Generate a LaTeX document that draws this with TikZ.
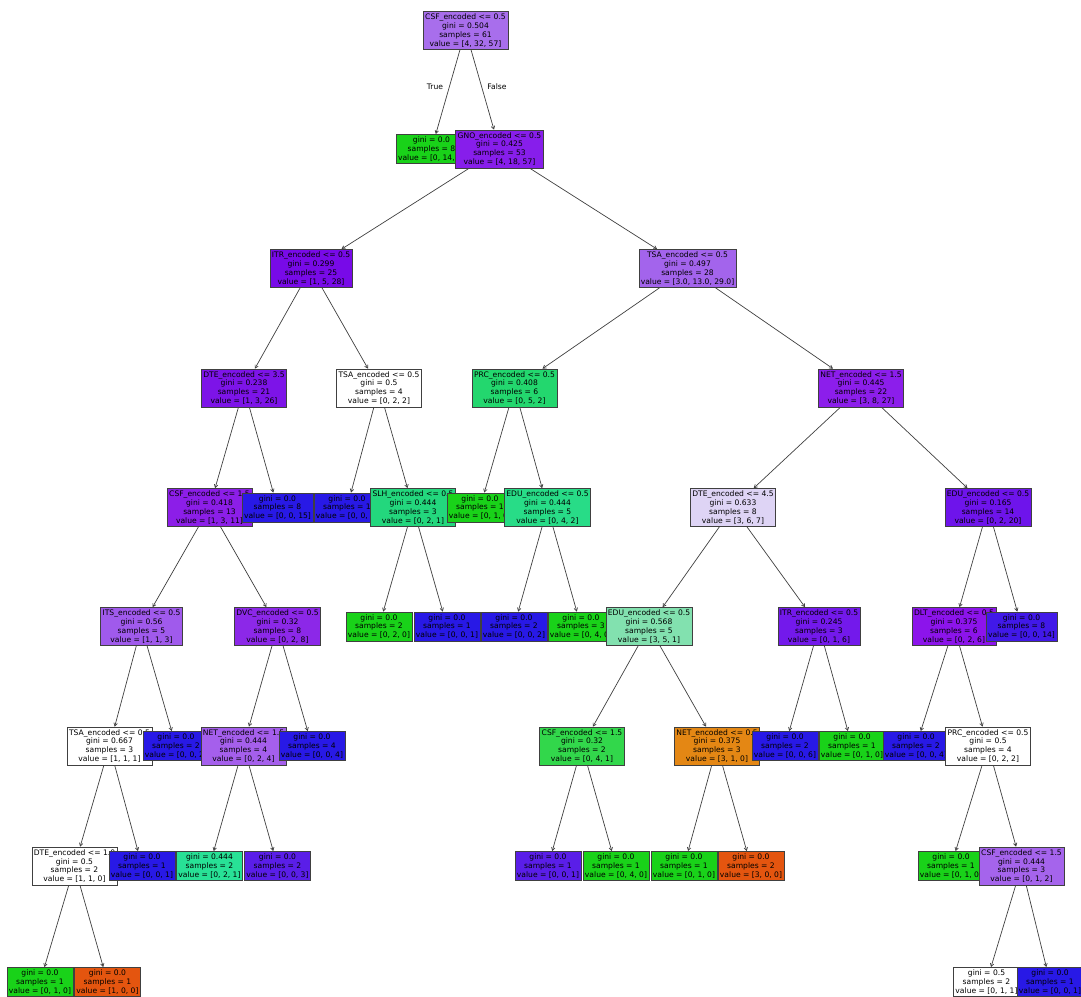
\documentclass[tikz,border=0pt]{standalone}
\usepackage{fontspec}
\setmainfont{DejaVu Sans}
\usetikzlibrary{arrows.meta}
\definecolor{cRoot}{RGB}{168,110,236}
\definecolor{cG}{RGB}{25,210,25}
\definecolor{cGNO}{RGB}{135,30,235}
\definecolor{cITR}{RGB}{120,10,232}
\definecolor{cTSAb}{RGB}{163,100,236}
\definecolor{cDTEa}{RGB}{125,20,232}
\definecolor{cPRC}{RGB}{35,215,110}
\definecolor{cNETa}{RGB}{140,30,235}
\definecolor{cCSFa}{RGB}{140,30,232}
\definecolor{cB}{RGB}{40,25,230}
\definecolor{cSLH}{RGB}{35,215,125}
\definecolor{cEDUa}{RGB}{40,220,135}
\definecolor{cDTEb}{RGB}{222,212,245}
\definecolor{cEDUc}{RGB}{110,20,235}
\definecolor{cITS}{RGB}{160,90,236}
\definecolor{cDVC}{RGB}{140,40,232}
\definecolor{cEDUb}{RGB}{130,225,175}
\definecolor{cITRb}{RGB}{115,25,235}
\definecolor{cDLT}{RGB}{140,20,235}
\definecolor{cBV}{RGB}{65,25,232}
\definecolor{cNETb}{RGB}{165,95,236}
\definecolor{cCSFb}{RGB}{50,215,75}
\definecolor{cOr}{RGB}{228,135,20}
\definecolor{cTeal}{RGB}{40,225,150}
\definecolor{cV}{RGB}{90,30,232}
\definecolor{cRO}{RGB}{228,85,15}
\definecolor{cCSFc}{RGB}{165,100,236}
\tikzset{
  box/.style={draw=black!75, line width=0.5pt, rectangle, inner xsep=2pt, inner ysep=2.5pt,
    align=center, font=\fontsize{7.6}{8.8}\selectfont, text=black},
  edge/.style={draw=black!75, line width=0.7pt, -{Straight Barb[length=3pt,width=3.5pt]}},
  lbl/.style={font=\fontsize{7.6}{8.8}\selectfont, inner sep=0pt}
}
\begin{document}
\begin{tikzpicture}[x=1pt,y=-1pt]
\useasboundingbox (0,0) rectangle (1081,996);
\fill[white] (0,0) rectangle (1081,996);
% level 0
\node[box, fill=cRoot] (n0) at (465.5,30.5) {CSF\_encoded <= 0.5\\gini = 0.504\\samples = 61\\value = [4, 32, 57]};
% level 1
\node[box, fill=cG] (l1) at (431.5,149) {gini = 0.0\\samples = 8\\value = [0, 14, 0]};
\node[box, fill=cGNO] (gno) at (499.5,149) {GNO\_encoded <= 0.5\\gini = 0.425\\samples = 53\\value = [4, 18, 57]};
% left subtree of GNO
\node[box, fill=cITR] (itr) at (311,268.5) {ITR\_encoded <= 0.5\\gini = 0.299\\samples = 25\\value = [1, 5, 28]};
\node[box, fill=cDTEa] (dte35) at (244,388) {DTE\_encoded <= 3.5\\gini = 0.238\\samples = 21\\value = [1, 3, 26]};
\node[box, fill=cCSFa] (csfa) at (209.5,507.5) {CSF\_encoded <= 1.5\\gini = 0.418\\samples = 13\\value = [1, 3, 11]};
\node[box, fill=cITS] (its) at (141.5,626.5) {ITS\_encoded <= 0.5\\gini = 0.56\\samples = 5\\value = [1, 1, 3]};
\node[box, fill=white] (tsac) at (109.5,746) {TSA\_encoded <= 0.5\\gini = 0.667\\samples = 3\\value = [1, 1, 1]};
\node[box, fill=white] (dte10) at (74.5,866) {DTE\_encoded <= 1.0\\gini = 0.5\\samples = 2\\value = [1, 1, 0]};
\node[box, fill=cG] (g8) at (40,982) {gini = 0.0\\samples = 1\\value = [0, 1, 0]};
\node[box, fill=cRO] (o8) at (107.5,982) {gini = 0.0\\samples = 1\\value = [1, 0, 0]};
\node[box, fill=cB] (b7a) at (142,866) {gini = 0.0\\samples = 1\\value = [0, 0, 1]};
\node[box, fill=cB] (b6a) at (176,746) {gini = 0.0\\samples = 2\\value = [0, 0, 2]};
\node[box, fill=cDVC] (dvc) at (277.5,626.5) {DVC\_encoded <= 0.5\\gini = 0.32\\samples = 8\\value = [0, 2, 8]};
\node[box, fill=cNETb] (neta) at (243.5,746) {NET\_encoded <= 1.5\\gini = 0.444\\samples = 4\\value = [0, 2, 4]};
\node[box, fill=cTeal] (t7) at (209.5,866) {gini = 0.444\\samples = 2\\value = [0, 2, 1]};
\node[box, fill=cV] (v7a) at (277.5,866) {gini = 0.0\\samples = 2\\value = [0, 0, 3]};
\node[box, fill=cB] (b6b) at (312,746) {gini = 0.0\\samples = 4\\value = [0, 0, 4]};
\node[box, fill=cB] (b4a) at (277.5,507.5) {gini = 0.0\\samples = 8\\value = [0, 0, 15]};
\node[box, fill=white] (tsaw) at (379,388) {TSA\_encoded <= 0.5\\gini = 0.5\\samples = 4\\value = [0, 2, 2]};
\node[box, fill=cB] (b4b) at (347,507.5) {gini = 0.0\\samples = 1\\value = [0, 0, 1]};
\node[box, fill=cSLH] (slh) at (413,507.5) {SLH\_encoded <= 0.5\\gini = 0.444\\samples = 3\\value = [0, 2, 1]};
\node[box, fill=cG] (g5a) at (379,626.5) {gini = 0.0\\samples = 2\\value = [0, 2, 0]};
\node[box, fill=cB] (b5a) at (447,626.5) {gini = 0.0\\samples = 1\\value = [0, 0, 1]};
% right subtree of GNO
\node[box, fill=cTSAb] (tsab) at (687.5,268.5) {TSA\_encoded <= 0.5\\gini = 0.497\\samples = 28\\value = [3.0, 13.0, 29.0]};
\node[box, fill=cPRC] (prc) at (514.5,388) {PRC\_encoded <= 0.5\\gini = 0.408\\samples = 6\\value = [0, 5, 2]};
\node[box, fill=cG] (g4) at (480,507.5) {gini = 0.0\\samples = 1\\value = [0, 1, 0]};
\node[box, fill=cEDUa] (edua) at (547.5,507.5) {EDU\_encoded <= 0.5\\gini = 0.444\\samples = 5\\value = [0, 4, 2]};
\node[box, fill=cB] (b5b) at (514,626.5) {gini = 0.0\\samples = 2\\value = [0, 0, 2]};
\node[box, fill=cG] (g5b) at (581,626.5) {gini = 0.0\\samples = 3\\value = [0, 4, 0]};
\node[box, fill=cNETa] (netb) at (861,388) {NET\_encoded <= 1.5\\gini = 0.445\\samples = 22\\value = [3, 8, 27]};
\node[box, fill=cDTEb] (dte45) at (733,507.5) {DTE\_encoded <= 4.5\\gini = 0.633\\samples = 8\\value = [3, 6, 7]};
\node[box, fill=cEDUb] (edub) at (649,626.5) {EDU\_encoded <= 0.5\\gini = 0.568\\samples = 5\\value = [3, 5, 1]};
\node[box, fill=cCSFb] (csfb) at (582,746) {CSF\_encoded <= 1.5\\gini = 0.32\\samples = 2\\value = [0, 4, 1]};
\node[box, fill=cV] (v7b) at (548,866) {gini = 0.0\\samples = 1\\value = [0, 0, 1]};
\node[box, fill=cG] (g7a) at (616,866) {gini = 0.0\\samples = 1\\value = [0, 4, 0]};
\node[box, fill=cOr] (netor) at (717,746) {NET\_encoded <= 0.5\\gini = 0.375\\samples = 3\\value = [3, 1, 0]};
\node[box, fill=cG] (g7b) at (684,866) {gini = 0.0\\samples = 1\\value = [0, 1, 0]};
\node[box, fill=cRO] (o7) at (751,866) {gini = 0.0\\samples = 2\\value = [3, 0, 0]};
\node[box, fill=cITRb] (itrb) at (819,626.5) {ITR\_encoded <= 0.5\\gini = 0.245\\samples = 3\\value = [0, 1, 6]};
\node[box, fill=cB] (b6c) at (785,746) {gini = 0.0\\samples = 2\\value = [0, 0, 6]};
\node[box, fill=cG] (g6) at (852,746) {gini = 0.0\\samples = 1\\value = [0, 1, 0]};
\node[box, fill=cEDUc] (educ) at (988,507.5) {EDU\_encoded <= 0.5\\gini = 0.165\\samples = 14\\value = [0, 2, 20]};
\node[box, fill=cDLT] (dlt) at (954,626.5) {DLT\_encoded <= 0.5\\gini = 0.375\\samples = 6\\value = [0, 2, 6]};
\node[box, fill=cB] (b6d) at (916,746) {gini = 0.0\\samples = 2\\value = [0, 0, 4]};
\node[box, fill=white] (prcb) at (988,746) {PRC\_encoded <= 0.5\\gini = 0.5\\samples = 4\\value = [0, 2, 2]};
\node[box, fill=cG] (g7c) at (951,866) {gini = 0.0\\samples = 1\\value = [0, 1, 0]};
\node[box, fill=cCSFc] (csfc) at (1021.5,866) {CSF\_encoded <= 1.5\\gini = 0.444\\samples = 3\\value = [0, 1, 2]};
\node[box, fill=white] (w8) at (986.5,982) {gini = 0.5\\samples = 2\\value = [0, 1, 1]};
\node[box, fill=cB] (b8) at (1050,982) {gini = 0.0\\samples = 1\\value = [0, 0, 1]};
\node[box, fill=cBV] (b5c) at (1021.5,626.5) {gini = 0.0\\samples = 8\\value = [0, 0, 14]};
% labels
\node[lbl] (ltrue) at (435,87) {True};
\node[lbl] (lfalse) at (497,87) {False};
% edges
\draw[edge] (n0) -- (l1);
\draw[edge] (n0) -- (gno);
\draw[edge] (gno) -- (itr);
\draw[edge] (gno) -- (tsab);
\draw[edge] (itr) -- (dte35);
\draw[edge] (itr) -- (tsaw);
\draw[edge] (dte35) -- (csfa);
\draw[edge] (dte35) -- (b4a);
\draw[edge] (csfa) -- (its);
\draw[edge] (csfa) -- (dvc);
\draw[edge] (its) -- (tsac);
\draw[edge] (its) -- (b6a);
\draw[edge] (tsac) -- (dte10);
\draw[edge] (tsac) -- (b7a);
\draw[edge] (dte10) -- (g8);
\draw[edge] (dte10) -- (o8);
\draw[edge] (dvc) -- (neta);
\draw[edge] (dvc) -- (b6b);
\draw[edge] (neta) -- (t7);
\draw[edge] (neta) -- (v7a);
\draw[edge] (tsaw) -- (b4b);
\draw[edge] (tsaw) -- (slh);
\draw[edge] (slh) -- (g5a);
\draw[edge] (slh) -- (b5a);
\draw[edge] (tsab) -- (prc);
\draw[edge] (tsab) -- (netb);
\draw[edge] (prc) -- (g4);
\draw[edge] (prc) -- (edua);
\draw[edge] (edua) -- (b5b);
\draw[edge] (edua) -- (g5b);
\draw[edge] (netb) -- (dte45);
\draw[edge] (netb) -- (educ);
\draw[edge] (dte45) -- (edub);
\draw[edge] (dte45) -- (itrb);
\draw[edge] (edub) -- (csfb);
\draw[edge] (edub) -- (netor);
\draw[edge] (csfb) -- (v7b);
\draw[edge] (csfb) -- (g7a);
\draw[edge] (netor) -- (g7b);
\draw[edge] (netor) -- (o7);
\draw[edge] (itrb) -- (b6c);
\draw[edge] (itrb) -- (g6);
\draw[edge] (educ) -- (dlt);
\draw[edge] (educ) -- (b5c);
\draw[edge] (dlt) -- (b6d);
\draw[edge] (dlt) -- (prcb);
\draw[edge] (prcb) -- (g7c);
\draw[edge] (prcb) -- (csfc);
\draw[edge] (csfc) -- (w8);
\draw[edge] (csfc) -- (b8);
\end{tikzpicture}
\end{document}
